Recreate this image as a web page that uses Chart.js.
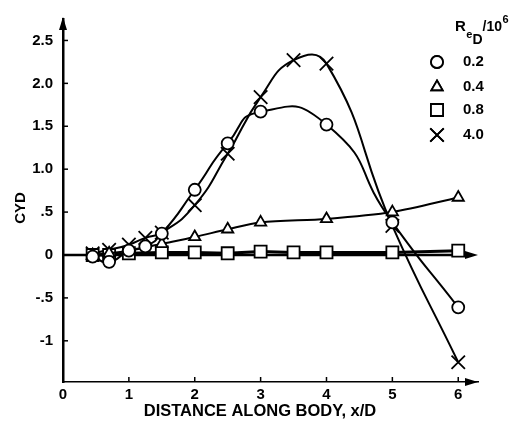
<!DOCTYPE html>
<html>
<head>
<meta charset="utf-8">
<script src="https://cdn.jsdelivr.net/npm/chart.js@4.4.1/dist/chart.umd.min.js"></script>
<style>
html, body { margin: 0; padding: 0; background: #fff; }
#wrap { width: 523px; height: 428px; }
</style>
</head>
<body>
<div id="wrap"><canvas id="c"></canvas></div>
<script>
// Re_D / 10^6 series
const seriesNames = ['0.2', '0.4', '0.8', '4.0'];

const xRe02 = [0.45, 0.7, 1.0, 1.25, 1.5, 2.0, 2.5, 3.0, 4.0, 5.0, 6.0];
const yRe02 = [-0.02, -0.08, 0.05, 0.10, 0.25, 0.76, 1.30, 1.67, 1.52, 0.38, -0.61];

const xRe04 = [0.45, 0.7, 1.0, 1.5, 2.0, 2.5, 3.0, 4.0, 5.0, 6.0];
const yRe04 = [0.0, 0.02, 0.05, 0.13, 0.21, 0.30, 0.38, 0.42, 0.50, 0.67];

const xRe08 = [0.45, 0.7, 1.0, 1.5, 2.0, 2.5, 3.0, 3.5, 4.0, 5.0, 6.0];
const yRe08 = [0.0, 0.0, 0.02, 0.03, 0.03, 0.02, 0.04, 0.03, 0.03, 0.03, 0.05];

const xRe40 = [0.45, 0.7, 1.0, 1.25, 1.5, 2.0, 2.5, 3.0, 3.5, 4.0, 5.0, 6.0];
const yRe40 = [0.02, 0.06, 0.12, 0.20, 0.26, 0.58, 1.18, 1.84, 2.27, 2.23, 0.34, -1.25];

const xTicks = [0, 1, 2, 3, 4, 5, 6];
const yTicks = [-1, -0.5, 0, 0.5, 1, 1.5, 2, 2.5];
const yTickLabels = ['-1', '-.5', '0', '.5', '1.0', '1.5', '2.0', '2.5'];

function pts(xs, ys) {
    return xs.map((x, i) => ({ x: x, y: ys[i] }));
}

const markers = ['circle', 'triangle', 'rect', 'crossRot'];
const tensions = [0.6, 0.3, 0, 0.5];
const sizes = [6, 6.5, 8.5, 9.5];
const allData = [pts(xRe02, yRe02), pts(xRe04, yRe04), pts(xRe08, yRe08), pts(xRe40, yRe40)];

const datasets = allData.map((d, i) => ({
    label: seriesNames[i],
    data: d,
    showLine: true,
    borderColor: '#000',
    borderWidth: i == 2 ? 3 : 2,
    tension: tensions[i],
    pointStyle: markers[i],
    pointRadius: sizes[i],
    pointBackgroundColor: '#fff',
    pointBorderColor: '#000',
    pointBorderWidth: 1.8,
    clip: false
}));

const fam = '"Liberation Sans", Arial, sans-serif';

function arrow(ctx, x, y, dir) {
    ctx.beginPath();
    if (dir == 'up') {
        ctx.moveTo(x, y); ctx.lineTo(x - 4, y + 13); ctx.lineTo(x + 4, y + 13);
    } else {
        ctx.moveTo(x, y); ctx.lineTo(x - 13, y - 4); ctx.lineTo(x - 13, y + 4);
    }
    ctx.closePath();
    ctx.fill();
}

// draws text pieces one after another, each with its own size and y
function runText(ctx, x, parts) {
    parts.forEach(p => {
        ctx.font = 'bold ' + p[1] + 'px ' + fam;
        ctx.fillText(p[0], x, p[2]);
        x += ctx.measureText(p[0]).width + (p[3] || 0);
    });
}

const decor = {
    id: 'decor',
    beforeDatasetsDraw(chart) {
        const ctx = chart.ctx;
        const xs = chart.scales.x, ys = chart.scales.y;
        const a = chart.chartArea;
        ctx.save();
        ctx.fillStyle = '#000';
        ctx.strokeStyle = '#000';
        // zero line with arrow
        const y0 = ys.getPixelForValue(0);
        ctx.lineWidth = 2.5;
        ctx.beginPath();
        ctx.moveTo(a.left, y0);
        ctx.lineTo(a.right - 6, y0);
        ctx.stroke();
        arrow(ctx, a.right, y0, 'right');
        // inward tick marks
        ctx.lineWidth = 1.5;
        yTicks.forEach(v => {
            const p = ys.getPixelForValue(v);
            ctx.beginPath(); ctx.moveTo(a.left, p); ctx.lineTo(a.left + 5, p); ctx.stroke();
        });
        xTicks.forEach(v => {
            const p = xs.getPixelForValue(v);
            ctx.beginPath(); ctx.moveTo(p, a.bottom); ctx.lineTo(p, a.bottom - 5); ctx.stroke();
        });
        // axis arrows
        arrow(ctx, a.left, a.top - 2, 'up');
        arrow(ctx, a.right, a.bottom, 'right');
        ctx.restore();
    },
    afterDraw(chart) {
        const ctx = chart.ctx;
        ctx.save();
        ctx.fillStyle = '#000';
        ctx.strokeStyle = '#000';
        ctx.textBaseline = 'middle';
        // axis titles
        ctx.textAlign = 'center';
        ctx.font = 'bold 16.5px ' + fam;
        ctx.fillText('DISTANCE ALONG BODY, x/D', 260, 411);
        ctx.font = 'bold 15px ' + fam;
        ctx.save();
        ctx.translate(21, 208);
        ctx.rotate(-Math.PI / 2);
        ctx.fillText('CYD', 0, 0);
        ctx.restore();
        // legend header R_eD / 10^6
        ctx.textAlign = 'left';
        runText(ctx, 455, [['R', 15, 27, 0.5], ['e', 11, 35, 0], ['D', 14, 40, 0], ['/10', 14, 27, 0.5], ['6', 11, 20]]);
        // legend entries
        const rows = [62, 87, 110, 135];
        ctx.font = 'bold 15px ' + fam;
        seriesNames.forEach((name, i) => {
            const y = rows[i];
            ctx.lineWidth = 1.8;
            ctx.fillStyle = '#fff';
            Chart.helpers.drawPoint(ctx, {
                pointStyle: markers[i], radius: sizes[i], rotation: 0, borderWidth: 1.8
            }, 437, y);
            ctx.fill();
            ctx.stroke();
            ctx.fillStyle = '#000';
            ctx.fillText(name, 463, y);
        });
        ctx.restore();
    }
};

new Chart(document.getElementById('c'), {
    type: 'scatter',
    data: { datasets: datasets },
    options: {
        responsive: true,
        maintainAspectRatio: false,
        animation: false,
        layout: { padding: { top: 10, right: 45, left: 0, bottom: 0 } },
        plugins: { legend: { display: false }, tooltip: { enabled: false } },
        scales: {
            x: {
                type: 'linear',
                min: 0,
                max: 6.3,
                afterFit: s => { s.height = 46; },
                afterBuildTicks: s => { s.ticks = xTicks.map(v => ({ value: v })); },
                grid: { display: false, drawTicks: false },
                border: { display: true, color: '#000', width: 1.5 },
                ticks: {
                    color: '#000',
                    padding: 4,
                    maxRotation: 0,
                    font: { family: fam, size: 15, weight: 'bold' },
                    callback: v => String(v)
                }
            },
            y: {
                type: 'linear',
                min: -1.48,
                max: 2.75,
                afterFit: s => { s.width = 63; },
                afterBuildTicks: s => { s.ticks = yTicks.map(v => ({ value: v })); },
                grid: { display: false, drawTicks: false },
                border: { display: true, color: '#000', width: 2.5 },
                ticks: {
                    color: '#000',
                    padding: 10,
                    font: { family: fam, size: 15, weight: 'bold' },
                    callback: v => yTickLabels[yTicks.indexOf(v)]
                }
            }
        }
    },
    plugins: [decor]
});
</script>
</body>
</html>
